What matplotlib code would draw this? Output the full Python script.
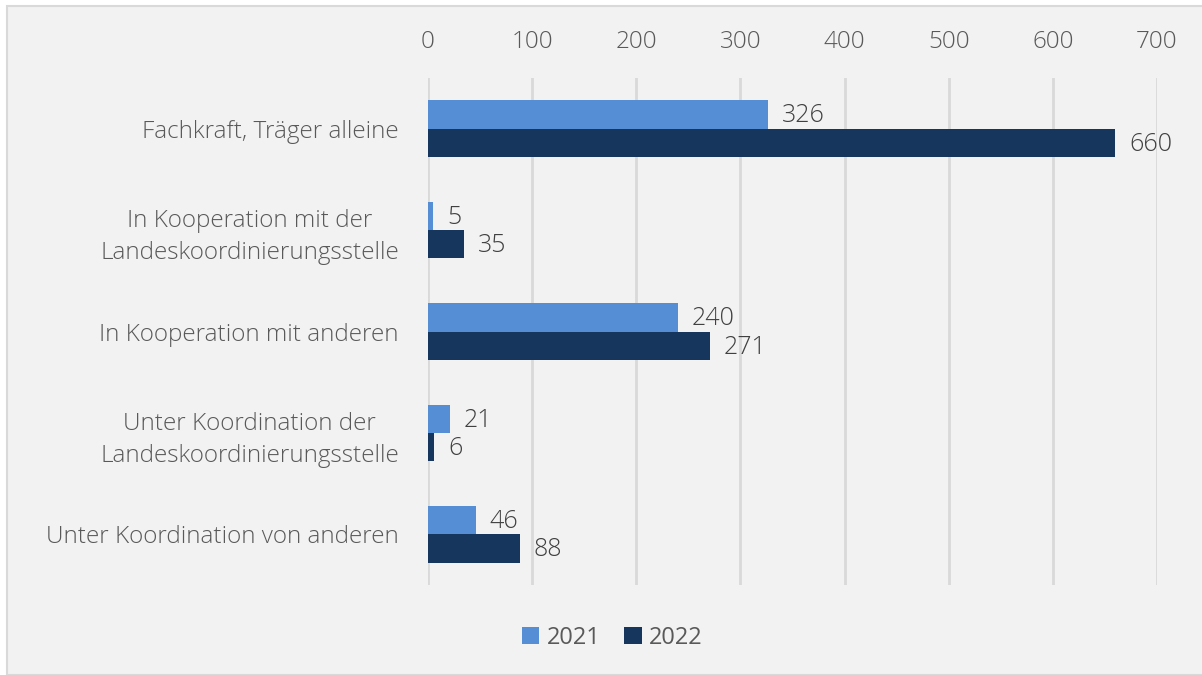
import matplotlib.pyplot as plt
from matplotlib.patches import Rectangle
import numpy as np

categories = ["Fachkraft, Träger alleine",
              "In Kooperation mit der\nLandeskoordinierungsstelle",
              "In Kooperation mit anderen",
              "Unter Koordination der\nLandeskoordinierungsstelle",
              "Unter Koordination von anderen"]
values_2021 = [326, 5, 240, 21, 46]
values_2022 = [660, 35, 271, 6, 88]
series_names = ["2021", "2022"]
x_ticks = [0, 100, 200, 300, 400, 500, 600, 700]

plt.rcParams['font.family'] = ['Open Sans', 'DejaVu Sans']

fig = plt.figure(figsize=(12.02, 6.75), dpi=100)
fig.patch.set_facecolor('white')
fig.patches.append(Rectangle((7 / 1202, 0), 1.0, 1 - 6 / 675, transform=fig.transFigure,
                             facecolor='#f2f2f2', edgecolor='#d9d9d9', linewidth=1.5, zorder=-1))

ax = fig.add_axes([428 / 1202, 1 - 585 / 675, (1157 - 428) / 1202, (585 - 78) / 675])
ax.set_facecolor('none')

y = np.arange(len(categories))
h = 0.28
c1 = '#558ed5'
c2 = '#17365d'
b1 = ax.barh(y - h / 2, values_2021, height=h, color=c1, label=series_names[0], zorder=3)
b2 = ax.barh(y + h / 2, values_2022, height=h, color=c2, label=series_names[1], zorder=3)

for bars in (b1, b2):
    for bar in bars:
        w = bar.get_width()
        ax.annotate(str(int(w)), (w, bar.get_y() + bar.get_height() / 2),
                    xytext=(10, -1), textcoords='offset points', ha='left', va='center',
                    fontsize=18, color='#404040', fontweight='light')

ax.set_xlim(0, 700)
ax.set_ylim(len(categories) - 0.5, -0.5)
ax.set_xticks(x_ticks)
ax.xaxis.tick_top()
ax.tick_params(axis='x', length=0, pad=17, labelsize=17.5, labelcolor='#595959')
ax.set_yticks(y)
ax.set_yticklabels(categories, fontsize=17.5, color='#595959', multialignment='center',
                   linespacing=1.45)
ax.tick_params(axis='y', length=0, pad=21)
for lab in ax.get_xticklabels() + ax.get_yticklabels():
    lab.set_fontweight('light')
ax.grid(axis='x', color='#d9d9d9', linewidth=2, zorder=0)
for s in ax.spines.values():
    s.set_visible(False)

leg = fig.legend(loc='center', bbox_to_anchor=(612 / 1202, 1 - 638 / 675), ncol=2,
                 frameon=False, fontsize=17, handlelength=0.75, handleheight=0.75,
                 handletextpad=0.3, columnspacing=1.0, labelcolor='#595959')

plt.savefig('out.png', dpi=100, facecolor=fig.get_facecolor())
